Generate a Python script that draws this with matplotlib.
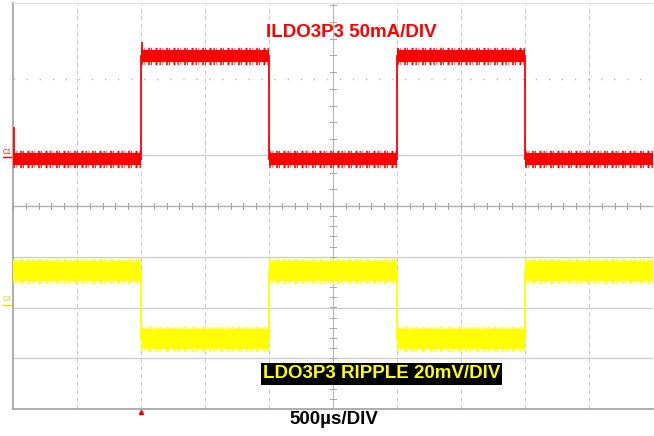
import numpy as np
import matplotlib.pyplot as plt

# Scope capture: load step on LDO3P3, 500us/div
seg_start_us = [0, 1000, 2000, 3000, 4000]
seg_end_us = [1000, 2000, 3000, 4000, 5000]

# channel 1 (current, red) level and noise half-band, in divisions
red_level = [0.93, 2.95, 0.93, 2.95, 0.93]
red_half = [0.12, 0.12, 0.12, 0.12, 0.12]
red_edge_peak = [1.54, 3.22, 0.80, 3.10, 0.78]  # spike seen at start of each segment

# channel 4 (ripple, yellow)
yel_level = [-1.28, -2.62, -1.28, -2.62, -1.28]
yel_half = [0.19, 0.19, 0.19, 0.19, 0.19]

red = '#ff0000'
yellow = '#ffff00'
grid_col = '#cccccc'

plt.rcParams['font.family'] = ['Liberation Sans', 'DejaVu Sans']

fig = plt.figure(figsize=(6.54, 4.36), dpi=100)
ax = fig.add_axes([13 / 654, 27 / 436, 640 / 654, 406 / 436])
ax.set_xlim(0, 5000)
ax.set_ylim(-4, 4)

# graticule (upper half comes from a differently scaled capture)
for xv in np.arange(500, 5000, 500):
    ax.axvline(xv, color=grid_col, lw=0.8, ls=(0, (4, 3)), zorder=0)
for yv in [-3, -2, -1, 1]:
    ax.axhline(yv, color=grid_col, lw=0.9, zorder=0)
ax.axhline(2.5, color='#b8b8b8', lw=1.0, ls=(0, (1, 8.4)), zorder=0)
ax.axhline(0, color='#b0b0b0', lw=1.0, zorder=0)
ax.axvline(2500, color='#b8b8b8', lw=0.8, zorder=0)
# minor ticks on centre lines
for xv in np.arange(0, 5000, 100):
    ax.plot([xv, xv], [-0.06, 0.06], color='#a0a0a0', lw=0.7, zorder=0)
for yv in np.arange(-4, 0, 0.2):
    ax.plot([2480, 2520], [yv, yv], color='#a8a8a8', lw=0.7, zorder=0)
for yv in np.arange(0.33, 4, 0.33):
    ax.plot([2480, 2520], [yv, yv], color='#a8a8a8', lw=0.7, zorder=0)

for s in ['left', 'bottom']:
    ax.spines[s].set_color('#a0a0a0')
    ax.spines[s].set_linewidth(1.2)
ax.spines['top'].set_color('#dddddd')
ax.spines['right'].set_visible(False)
ax.set_xticks([])
ax.set_yticks([])

# irregular dash pattern to roughen the band edges like scope noise
fuzz = (0, (0.4, 0.5, 0.2, 0.9, 0.5, 0.3, 0.3, 1.1, 0.6, 0.6))


def draw_trace(level, half, color, peaks=None):
    for i in range(len(seg_start_us)):
        x0, x1 = seg_start_us[i], seg_end_us[i]
        lo, hi = level[i] - half[i], level[i] + half[i]
        ax.fill_between([x0, x1], lo, hi, color=color, lw=0, zorder=3)
        for y_edge in [lo - 0.02, hi + 0.02]:
            ax.plot([x0, x1], [y_edge, y_edge], color=color, lw=2.4,
                    ls=fuzz, zorder=3)
        if i > 0:
            ax.plot([x0, x0], [level[i - 1], level[i]], color=color, lw=1.3, zorder=3)
        if peaks is not None:
            ax.plot([x0 + 6, x0 + 6], [level[i], peaks[i]], color=color, lw=1.3, zorder=3)


draw_trace(red_level, red_half, red, red_edge_peak)
draw_trace(yel_level, yel_half, yellow)

# channel markers and trigger marker
ax.text(-8, red_level[0] + 0.06, 'C1', color=red, fontsize=5, ha='right',
        va='bottom', clip_on=False)
ax.plot([-80, 0], [red_level[0] + 0.04, red_level[0] + 0.04], color=red, lw=1,
        clip_on=False)
ax.text(-8, -1.92, 'C4', color='#e0d000', fontsize=5, ha='right',
        va='bottom', clip_on=False)
ax.plot([-80, 0], [-1.95, -1.95], color='#e8d800', lw=1, clip_on=False)
ax.plot([1000], [-4.05], marker='^', color=red, ms=3, clip_on=False)

ax.text(2640, 3.41, 'ILDO3P3 50mA/DIV', color=red, fontsize=13.5,
        fontweight='bold', ha='center', va='center')
ax.text(2879, -3.31, 'LDO3P3 RIPPLE 20mV/DIV', color=yellow, fontsize=13.5,
        fontweight='bold', ha='center', va='center',
        bbox=dict(facecolor='black', edgecolor='none', pad=1.5))
fig.text(334 / 654, 1 - 419 / 436, '500\u00b5s/DIV', color='black',
         fontsize=13.5, fontweight='bold', ha='center', va='center')

fig.savefig('out.png', dpi=100)
